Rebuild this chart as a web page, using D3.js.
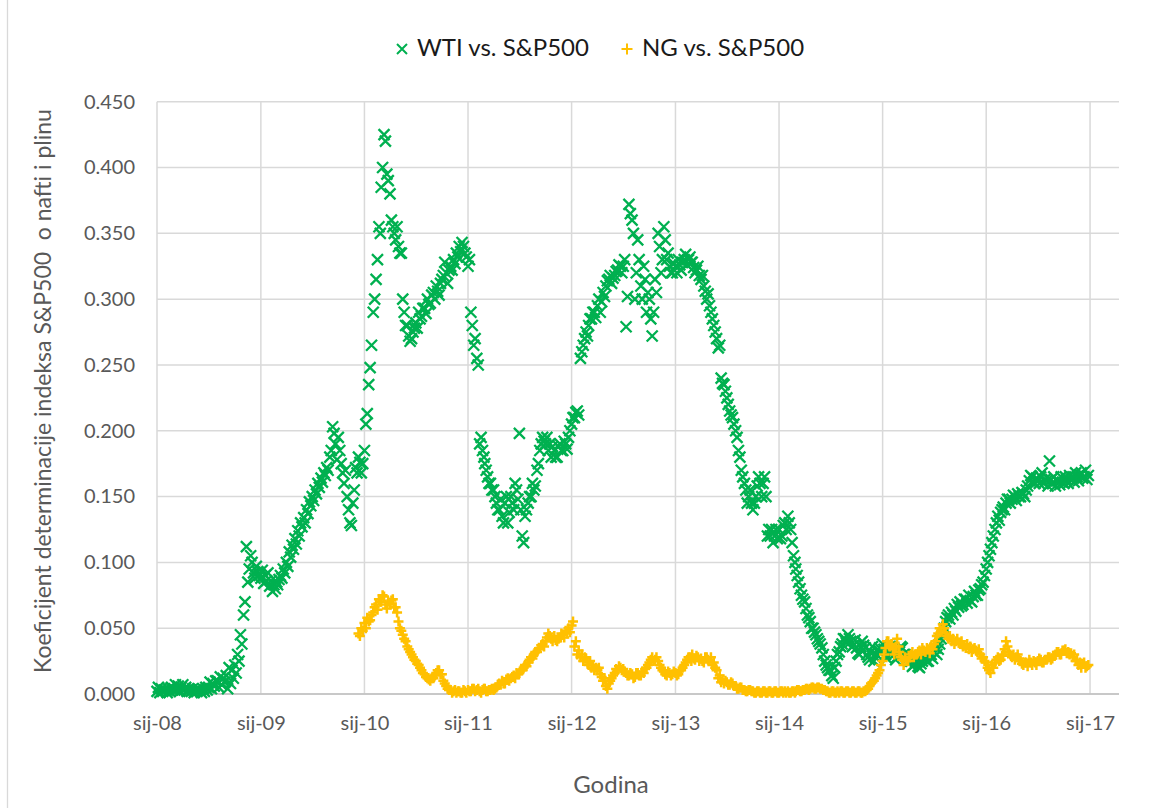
<!DOCTYPE html>
<html>
<head>
<meta charset="utf-8">
<script src="https://cdn.jsdelivr.net/npm/d3@7"></script>
<style>
  html, body { margin: 0; padding: 0; background: #fff; }
  svg { display: block; }
  text { font-family: Lato, "Open Sans", sans-serif; }
</style>
</head>
<body>
<svg id="chart" width="1167" height="808"></svg>
<script>
// ---------------- DATA (6 readings per month: days 1, 6, 11, 16, 21, 26) ----------------
const years = [2008, 2009, 2010, 2011, 2012, 2013, 2014, 2015, 2016];
const xTickLabels = ["sij-08","sij-09","sij-10","sij-11","sij-12","sij-13","sij-14","sij-15","sij-16","sij-17"];
const yTickValues = [0, 0.05, 0.10, 0.15, 0.20, 0.25, 0.30, 0.35, 0.40, 0.45];
const seriesNames = ["WTI vs. S&P500", "NG vs. S&P500"];

const wti2008 = [
  0.002,0.005,0.001,0.004,0.002,0.003, 0.003,0.001,0.004,0.002,0.005,0.003, 0.004,0.007,0.003,0.006,0.002,0.005,
  0.007,0.003,0.005,0.002,0.004,0.003, 0.002,0.004,0.001,0.003,0.002,0.004, 0.003,0.001,0.004,0.002,0.005,0.003,
  0.005,0.009,0.004,0.008,0.006,0.010, 0.010,0.005,0.013,0.007,0.012,0.009, 0.014,0.004,0.020,0.008,0.018,0.012,
  0.022,0.016,0.030,0.025,0.045,0.038, 0.060,0.070,0.112,0.085,0.095,0.105, 0.100,0.092,0.088,0.097,0.093,0.090];
const wti2009 = [
  0.088,0.094,0.084,0.090,0.086,0.092, 0.082,0.086,0.078,0.083,0.080,0.085, 0.083,0.087,0.090,0.088,0.095,0.092,
  0.100,0.097,0.108,0.104,0.113,0.110, 0.118,0.114,0.124,0.120,0.130,0.127, 0.134,0.130,0.140,0.137,0.146,0.143,
  0.150,0.147,0.155,0.152,0.160,0.157, 0.164,0.161,0.168,0.166,0.172,0.170, 0.180,0.185,0.203,0.198,0.190,0.178,
  0.195,0.185,0.175,0.168,0.160,0.170, 0.150,0.140,0.130,0.128,0.145,0.155, 0.172,0.168,0.180,0.176,0.168,0.175];
const wti2010 = [
  0.185,0.205,0.213,0.235,0.248,0.265, 0.290,0.300,0.315,0.330,0.355,0.350, 0.385,0.400,0.425,0.420,0.395,0.390,
  0.380,0.360,0.355,0.350,0.345,0.355, 0.340,0.335,0.335,0.300,0.290,0.280, 0.280,0.272,0.268,0.270,0.275,0.278,
  0.282,0.278,0.290,0.285,0.287,0.293, 0.293,0.289,0.300,0.296,0.297,0.303, 0.305,0.300,0.310,0.306,0.303,0.312,
  0.315,0.318,0.328,0.320,0.312,0.322, 0.325,0.322,0.330,0.327,0.335,0.332, 0.340,0.336,0.343,0.340,0.335,0.332];
const wti2011 = [
  0.325,0.330,0.290,0.280,0.265,0.270, 0.255,0.250,0.190,0.195,0.185,0.180, 0.175,0.170,0.165,0.160,0.160,0.155,
  0.155,0.150,0.145,0.140,0.140,0.148, 0.135,0.130,0.145,0.150,0.130,0.138, 0.150,0.145,0.140,0.160,0.155,0.148,
  0.198,0.140,0.120,0.115,0.135,0.140, 0.145,0.150,0.150,0.160,0.155,0.158, 0.170,0.175,0.185,0.190,0.195,0.192,
  0.190,0.195,0.185,0.190,0.180,0.188, 0.185,0.180,0.180,0.188,0.190,0.185, 0.185,0.192,0.190,0.186,0.195,0.200];
const wti2012 = [
  0.205,0.210,0.210,0.214,0.215,0.212, 0.255,0.260,0.265,0.270,0.275,0.272, 0.280,0.285,0.285,0.290,0.290,0.286,
  0.295,0.300,0.290,0.298,0.305,0.302, 0.310,0.314,0.315,0.318,0.312,0.316, 0.318,0.321,0.322,0.326,0.325,0.320,
  0.325,0.330,0.279,0.302,0.372,0.365, 0.360,0.350,0.300,0.320,0.345,0.330, 0.310,0.300,0.325,0.315,0.290,0.305,
  0.300,0.285,0.272,0.290,0.315,0.305, 0.350,0.340,0.320,0.330,0.355,0.345, 0.330,0.335,0.325,0.320,0.320,0.327];
const wti2013 = [
  0.325,0.320,0.330,0.326,0.322,0.328, 0.330,0.334,0.326,0.330,0.332,0.328, 0.328,0.324,0.320,0.322,0.325,0.318,
  0.315,0.318,0.310,0.306,0.300,0.304, 0.295,0.290,0.285,0.280,0.275,0.270, 0.263,0.265,0.240,0.236,0.235,0.230,
  0.225,0.220,0.215,0.212,0.210,0.205, 0.200,0.195,0.185,0.180,0.170,0.165, 0.160,0.155,0.145,0.150,0.155,0.145,
  0.140,0.145,0.150,0.158,0.165,0.160, 0.150,0.160,0.165,0.150,0.120,0.125, 0.120,0.125,0.115,0.120,0.125,0.118];
const wti2014 = [
  0.125,0.118,0.120,0.128,0.130,0.125, 0.135,0.130,0.125,0.115,0.105,0.100, 0.095,0.090,0.085,0.080,0.075,0.072,
  0.070,0.065,0.060,0.058,0.055,0.050, 0.050,0.047,0.045,0.042,0.040,0.038, 0.035,0.030,0.025,0.022,0.020,0.018,
  0.018,0.014,0.012,0.020,0.025,0.030, 0.032,0.036,0.038,0.042,0.042,0.039, 0.045,0.042,0.040,0.036,0.037,0.041,
  0.035,0.031,0.030,0.036,0.040,0.037, 0.035,0.030,0.028,0.026,0.032,0.036, 0.025,0.028,0.030,0.033,0.035,0.031];
const wti2015 = [
  0.038,0.034,0.030,0.027,0.033,0.036, 0.036,0.032,0.030,0.026,0.028,0.032, 0.032,0.036,0.035,0.030,0.030,0.026,
  0.028,0.025,0.025,0.021,0.022,0.025, 0.024,0.021,0.020,0.023,0.025,0.027, 0.028,0.025,0.025,0.029,0.030,0.027,
  0.032,0.035,0.030,0.034,0.038,0.042, 0.045,0.050,0.055,0.058,0.060,0.057, 0.062,0.060,0.065,0.063,0.068,0.066,
  0.070,0.067,0.068,0.072,0.072,0.069, 0.075,0.071,0.070,0.074,0.078,0.075, 0.075,0.079,0.080,0.083,0.085,0.090];
const wti2016 = [
  0.095,0.100,0.105,0.110,0.115,0.120, 0.125,0.130,0.135,0.132,0.138,0.140, 0.142,0.140,0.145,0.148,0.148,0.145,
  0.148,0.151,0.150,0.147,0.152,0.150, 0.150,0.153,0.152,0.150,0.155,0.158, 0.162,0.166,0.165,0.161,0.160,0.164,
  0.163,0.160,0.165,0.168,0.160,0.163, 0.162,0.158,0.177,0.163,0.160,0.165, 0.158,0.162,0.162,0.159,0.165,0.161,
  0.160,0.165,0.163,0.160,0.166,0.163, 0.165,0.161,0.168,0.165,0.162,0.167, 0.168,0.164,0.165,0.170,0.163,0.166];

// NG series starts in December 2009 (a short array fills the end of its year)
const ng2009 = [0.046,0.044,0.050,0.048];
const ng2010 = [
  0.054,0.050,0.058,0.055,0.056,0.060, 0.062,0.066,0.068,0.064,0.072,0.070, 0.070,0.075,0.074,0.068,0.065,0.070,
  0.068,0.071,0.072,0.066,0.066,0.062, 0.055,0.050,0.048,0.045,0.042,0.040, 0.036,0.034,0.032,0.030,0.028,0.026,
  0.025,0.023,0.022,0.020,0.018,0.016, 0.015,0.013,0.012,0.011,0.010,0.012, 0.012,0.014,0.016,0.018,0.018,0.015,
  0.015,0.010,0.008,0.006,0.004,0.003, 0.003,0.001,0.002,0.003,0.001,0.002, 0.002,0.001,0.001,0.003,0.002,0.001];
const ng2011 = [
  0.003,0.002,0.002,0.004,0.004,0.002, 0.003,0.004,0.002,0.001,0.003,0.004, 0.004,0.002,0.002,0.003,0.003,0.004,
  0.003,0.004,0.005,0.007,0.008,0.007, 0.010,0.008,0.008,0.011,0.012,0.010, 0.012,0.013,0.014,0.012,0.016,0.015,
  0.016,0.018,0.018,0.020,0.022,0.021, 0.024,0.026,0.028,0.027,0.030,0.032, 0.032,0.034,0.035,0.037,0.038,0.036,
  0.040,0.043,0.046,0.044,0.042,0.040, 0.044,0.041,0.040,0.042,0.043,0.046, 0.045,0.043,0.048,0.046,0.050,0.047];
const ng2012 = [
  0.052,0.055,0.036,0.040,0.030,0.033, 0.028,0.030,0.025,0.028,0.027,0.024, 0.022,0.025,0.020,0.022,0.018,0.020,
  0.018,0.020,0.015,0.013,0.010,0.012, 0.006,0.004,0.008,0.010,0.012,0.014, 0.016,0.019,0.018,0.021,0.020,0.018,
  0.019,0.017,0.016,0.014,0.014,0.016, 0.015,0.012,0.013,0.016,0.016,0.014, 0.014,0.017,0.016,0.019,0.020,0.022,
  0.024,0.026,0.028,0.025,0.026,0.028, 0.025,0.022,0.020,0.018,0.017,0.015, 0.014,0.017,0.016,0.014,0.015,0.017];
const ng2013 = [
  0.016,0.014,0.015,0.018,0.018,0.020, 0.022,0.024,0.026,0.028,0.028,0.025, 0.030,0.027,0.026,0.029,0.028,0.025,
  0.027,0.025,0.024,0.028,0.028,0.026, 0.025,0.028,0.022,0.024,0.020,0.018, 0.012,0.014,0.009,0.011,0.008,0.010,
  0.009,0.007,0.007,0.009,0.008,0.006, 0.006,0.004,0.004,0.005,0.005,0.003, 0.003,0.002,0.002,0.003,0.003,0.002,
  0.002,0.001,0.001,0.002,0.002,0.001, 0.001,0.002,0.002,0.001,0.001,0.002, 0.002,0.001,0.001,0.002,0.002,0.001];
const ng2014 = [
  0.001,0.002,0.002,0.001,0.002,0.001, 0.002,0.001,0.001,0.002,0.002,0.001, 0.002,0.003,0.003,0.002,0.002,0.003,
  0.003,0.004,0.004,0.003,0.004,0.005, 0.005,0.004,0.004,0.005,0.005,0.004, 0.004,0.003,0.003,0.002,0.002,0.001,
  0.001,0.002,0.002,0.001,0.001,0.002, 0.001,0.002,0.002,0.001,0.001,0.002, 0.002,0.001,0.001,0.002,0.002,0.001,
  0.001,0.002,0.002,0.001,0.001,0.002, 0.002,0.003,0.004,0.006,0.008,0.009, 0.010,0.012,0.014,0.016,0.018,0.022];
const ng2015 = [
  0.025,0.030,0.035,0.040,0.040,0.036, 0.038,0.034,0.030,0.036,0.042,0.036, 0.032,0.028,0.026,0.022,0.028,0.025,
  0.025,0.028,0.030,0.032,0.028,0.030, 0.030,0.032,0.033,0.030,0.035,0.033, 0.032,0.035,0.034,0.031,0.036,0.034,
  0.038,0.040,0.044,0.046,0.050,0.048, 0.053,0.050,0.046,0.044,0.042,0.044, 0.040,0.042,0.038,0.040,0.042,0.039,
  0.038,0.040,0.036,0.037,0.035,0.038, 0.034,0.036,0.032,0.034,0.035,0.033, 0.032,0.034,0.030,0.027,0.028,0.025];
const ng2016 = [
  0.024,0.020,0.018,0.016,0.022,0.020, 0.024,0.026,0.028,0.025,0.026,0.029, 0.030,0.034,0.040,0.036,0.032,0.030,
  0.028,0.030,0.026,0.028,0.030,0.027, 0.025,0.023,0.022,0.024,0.024,0.021, 0.026,0.024,0.022,0.025,0.024,0.022,
  0.025,0.027,0.026,0.024,0.024,0.026, 0.026,0.028,0.028,0.026,0.027,0.029, 0.030,0.032,0.032,0.030,0.030,0.033,
  0.033,0.034,0.031,0.032,0.030,0.031, 0.028,0.030,0.025,0.026,0.022,0.024, 0.020,0.023,0.024,0.020,0.021,0.022];

const wtiYears = [wti2008, wti2009, wti2010, wti2011, wti2012, wti2013, wti2014, wti2015, wti2016];
const ngYears  = [[], ng2009, ng2010, ng2011, ng2012, ng2013, ng2014, ng2015, ng2016];

// ---------------- BUILD POINTS ----------------
const PER_MONTH = 6, PER_YEAR = 72;
function toPoints(yearArrays) {
  const pts = [];
  yearArrays.forEach((arr, yi) => {
    const offset = PER_YEAR - arr.length;
    arr.forEach((v, i) => {
      const slot = i + offset;
      const month = Math.floor(slot / PER_MONTH), sub = slot % PER_MONTH;
      pts.push({ date: new Date(years[yi], month, 1 + sub * 5), value: v });
    });
  });
  return pts;
}
const wtiPoints = toPoints(wtiYears);
const ngPoints = toPoints(ngYears);

// ---------------- LAYOUT ----------------
const svg = d3.select("#chart");
const W = 1167, H = 808;
const plot = { left: 157, right: 1119, top: 101.7, bottom: 694 };
const GREEN = "#00B050", GOLD = "#FFC000", GRID = "#D9D9D9", TXT = "#595959";

svg.append("rect").attr("width", W).attr("height", H).attr("fill", "#fff");
svg.append("line").attr("x1", 7.5).attr("x2", 7.5).attr("y1", 0).attr("y2", H)
  .attr("stroke", GRID).attr("stroke-width", 1.3);

const x = d3.scaleTime()
  .domain([new Date(2008, 0, 1), new Date(2017, 3, 13)])
  .range([plot.left, plot.right]);
const y = d3.scaleLinear().domain([0, 0.45]).range([plot.bottom, plot.top]);

const xTickDates = xTickLabels.map((_, i) => new Date(2008 + i, 0, 1));

// gridlines
const grid = svg.append("g");
grid.selectAll("line.h").data(yTickValues).join("line")
  .attr("x1", plot.left).attr("x2", plot.right)
  .attr("y1", d => y(d)).attr("y2", d => y(d))
  .attr("stroke", GRID).attr("stroke-width", 1.5);
grid.selectAll("line.v").data(xTickDates).join("line")
  .attr("x1", d => x(d)).attr("x2", d => x(d))
  .attr("y1", plot.top).attr("y2", plot.bottom)
  .attr("stroke", GRID).attr("stroke-width", 1.5);

// axes
const xAxis = d3.axisBottom(x).tickValues(xTickDates)
  .tickFormat((d, i) => xTickLabels[i]).tickSize(0).tickPadding(22);
const gx = svg.append("g").attr("transform", `translate(0,${plot.bottom})`).call(xAxis);
gx.select(".domain").attr("stroke", "#BFBFBF").attr("stroke-width", 1.5)
  .attr("d", `M${plot.left},0H${plot.right}`);
gx.selectAll("text").attr("fill", TXT).style("font-size", "20px");

const yAxis = d3.axisLeft(y).tickValues(yTickValues)
  .tickFormat(d3.format(".3f")).tickSize(0).tickPadding(22);
const gy = svg.append("g").attr("transform", `translate(${plot.left},0)`).call(yAxis);
gy.select(".domain").remove();
gy.selectAll("text").attr("fill", TXT).style("font-size", "20px");

// markers
const xPath = r => `M${-r},${-r}L${r},${r}M${-r},${r}L${r},${-r}`;
const plusPath = r => `M${-r},0H${r}M0,${-r}V${r}`;

svg.append("g").selectAll("path").data(wtiPoints).join("path")
  .attr("transform", d => `translate(${x(d.date)},${y(d.value)})`)
  .attr("d", xPath(5.5)).attr("stroke", GREEN).attr("stroke-width", 2.3).attr("fill", "none");

svg.append("g").selectAll("path").data(ngPoints).join("path")
  .attr("transform", d => `translate(${x(d.date)},${y(d.value)})`)
  .attr("d", plusPath(5)).attr("stroke", GOLD).attr("stroke-width", 2.5).attr("fill", "none");

// legend
const lg = svg.append("g");
lg.append("path").attr("transform", "translate(402,49)").attr("d", xPath(5))
  .attr("stroke", GREEN).attr("stroke-width", 2).attr("fill", "none");
lg.append("text").attr("x", 417).attr("y", 56).text(seriesNames[0])
  .attr("fill", "#1a1a1a").style("font-size", "24px");
lg.append("path").attr("transform", "translate(627,49)").attr("d", plusPath(5.5))
  .attr("stroke", GOLD).attr("stroke-width", 2).attr("fill", "none");
lg.append("text").attr("x", 642).attr("y", 56).text(seriesNames[1])
  .attr("fill", "#1a1a1a").style("font-size", "24px");

// axis titles
svg.append("text").attr("x", 611).attr("y", 793).attr("text-anchor", "middle")
  .attr("fill", TXT).style("font-size", "24px").text("Godina");
svg.append("text")
  .attr("transform", "translate(51,391) rotate(-90)")
  .attr("text-anchor", "middle").attr("fill", TXT)
  .style("font-size", "23px").style("white-space", "pre")
  .text("Koeficijent determinacije indeksa S&P500  o nafti i plinu");
</script>
</body>
</html>
